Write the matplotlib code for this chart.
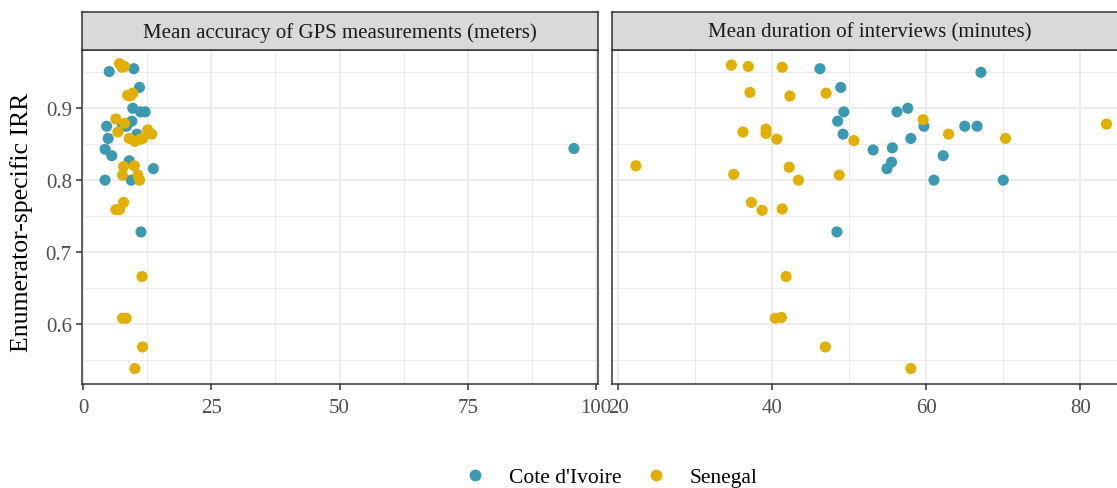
import matplotlib
matplotlib.use("Agg")
import matplotlib.pyplot as plt
from matplotlib.lines import Line2D

# ---- data ----
countries = ["Cote d'Ivoire", "Senegal"]
colors = {"Cote d'Ivoire": "#3B9AB2", "Senegal": "#E1AF00"}

# panel 1: mean GPS accuracy (m) vs IRR
gps_civ_x = [5.1, 9.9, 11.0, 9.7, 11.2, 12.1, 9.5, 4.6, 7.7, 8.5, 10.5, 4.9, 4.3, 5.6, 9.0, 13.7, 4.3, 9.4, 11.3, 95.7]
gps_civ_y = [0.951, 0.955, 0.929, 0.900, 0.895, 0.895, 0.882, 0.875, 0.875, 0.875, 0.864, 0.858, 0.843, 0.834, 0.827, 0.816, 0.800, 0.800, 0.728, 0.844]
gps_sen_x = [7.1, 8.1, 7.6, 8.7, 9.7, 9.2, 6.4, 8.1, 6.8, 9.0, 10.1, 11.6, 11.2, 12.6, 13.4, 7.9, 10.0, 7.7, 10.7, 11.0,
             7.9, 6.4, 7.1, 11.5, 7.7, 8.4, 11.6, 10.1]
gps_sen_y = [0.962, 0.958, 0.957, 0.918, 0.921, 0.917, 0.885, 0.879, 0.867, 0.858, 0.854, 0.858, 0.857, 0.870, 0.864, 0.819, 0.820, 0.807, 0.807, 0.800,
             0.769, 0.759, 0.759, 0.666, 0.608, 0.608, 0.568, 0.538]

# panel 2: mean interview duration (min) vs IRR
dur_civ_x = [46.2, 48.9, 49.3, 48.5, 49.2, 53.1, 48.4, 67.1, 56.2, 57.6, 59.7, 65.0, 66.6, 58.0, 55.6, 55.5, 54.9, 62.2, 61.0, 70.0]
dur_civ_y = [0.955, 0.929, 0.895, 0.882, 0.864, 0.842, 0.728, 0.950, 0.895, 0.900, 0.875, 0.875, 0.875, 0.858, 0.845, 0.825, 0.816, 0.834, 0.800, 0.800]
dur_sen_x = [34.7, 36.9, 41.3, 37.1, 42.3, 47.0, 36.2, 39.2, 39.2, 40.6, 50.6, 22.3, 42.2, 35.0, 48.7, 43.4,
             37.3, 38.7, 41.3, 41.8, 40.4, 41.2, 46.9, 59.6, 62.9, 70.3, 83.4, 58.0]
dur_sen_y = [0.960, 0.958, 0.957, 0.922, 0.917, 0.921, 0.867, 0.871, 0.865, 0.857, 0.855, 0.820, 0.818, 0.808, 0.807, 0.800,
             0.769, 0.758, 0.760, 0.666, 0.608, 0.609, 0.568, 0.884, 0.864, 0.858, 0.878, 0.538]

titles = ["Mean accuracy of GPS measurements (meters)", "Mean duration of interviews (minutes)"]

plt.rcParams["font.family"] = ["Liberation Serif", "DejaVu Serif"]

W, H = 1117, 489
fig = plt.figure(figsize=(W / 100, H / 100), dpi=100)

def px_axes(x0, y0, x1, y1):
    # place an axes by pixel box (top-left origin)
    return fig.add_axes([x0 / W, 1 - y1 / H, (x1 - x0) / W, (y1 - y0) / H])

panels = [
    dict(x0=81.5, x1=597.5, xlim=(-0.3, 100.3), xmajor=[0, 25, 50, 75, 100], xminor=[12.5, 37.5, 62.5, 87.5],
         series=[(gps_civ_x, gps_civ_y, "Cote d'Ivoire"), (gps_sen_x, gps_sen_y, "Senegal")]),
    dict(x0=612, x1=1128, xlim=(19.2, 86.2), xmajor=[20, 40, 60, 80], xminor=[30, 50, 70],
         series=[(dur_civ_x, dur_civ_y, "Cote d'Ivoire"), (dur_sen_x, dur_sen_y, "Senegal")]),
]

ylim = (0.5165, 0.981)
for i, p in enumerate(panels):
    ax = px_axes(p["x0"], 51, p["x1"], 385)
    ax.set_xlim(*p["xlim"])
    ax.set_ylim(*ylim)
    ax.set_xticks(p["xmajor"])
    ax.set_xticks(p["xminor"], minor=True)
    ax.set_yticks([0.6, 0.7, 0.8, 0.9])
    ax.set_yticks([0.55, 0.65, 0.75, 0.85, 0.95], minor=True)
    ax.grid(which="major", color="#EBEBEB", lw=1.3)
    ax.grid(which="minor", color="#EBEBEB", lw=0.7)
    ax.set_axisbelow(True)
    for s in ax.spines.values():
        s.set_color("#333333")
        s.set_linewidth(1.1)
    ax.tick_params(which="major", length=4, width=1.1, color="#333333",
                   labelsize=15, labelcolor="#4D4D4D", pad=3)
    ax.tick_params(axis="x", which="major", pad=6)
    ax.tick_params(which="minor", length=0)
    if i > 0:
        ax.tick_params(axis="y", which="major", length=0, labelleft=False)
    for xs, ys, c in p["series"]:
        ax.scatter(xs, ys, s=64, color=colors[c], edgecolors="none", zorder=3)

    # facet strip
    sax = px_axes(p["x0"], 12.5, p["x1"], 51)
    sax.set_xticks([])
    sax.set_yticks([])
    sax.set_facecolor("#D9D9D9")
    for s in sax.spines.values():
        s.set_color("#333333")
        s.set_linewidth(1.1)
    sax.text(0.5, 0.47, titles[i], ha="center", va="center", fontsize=15, color="#1A1A1A",
             transform=sax.transAxes)

fig.text(22 / W, 1 - 222 / H, "Enumerator-specific IRR", rotation=90, ha="center", va="center",
         fontsize=18.5, color="black")

handles = [Line2D([0], [0], marker="o", ls="none", markersize=8.5, markerfacecolor=colors[c],
                  markeredgecolor="none", label=c) for c in countries]
fig.legend(handles=handles, loc="center", bbox_to_anchor=(611 / W, 1 - 478 / H), ncol=2,
           frameon=False, fontsize=15.5, handlelength=1.0, handletextpad=1.1, columnspacing=1.07)

fig.savefig("out.png", dpi=100)
